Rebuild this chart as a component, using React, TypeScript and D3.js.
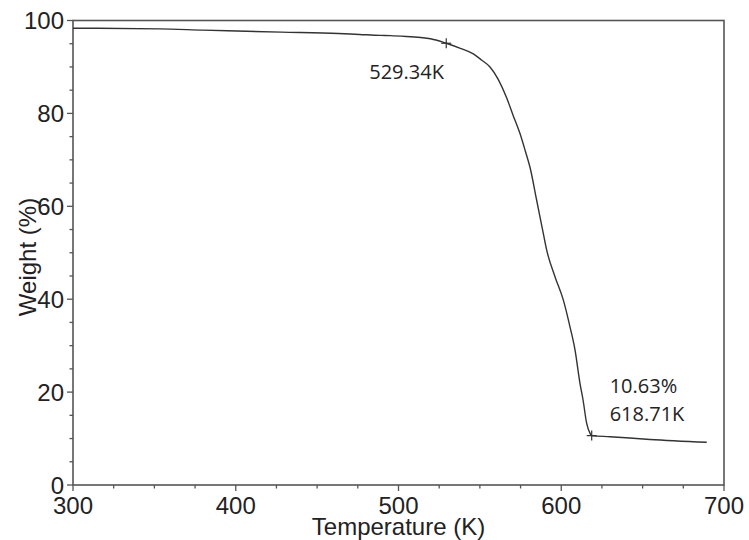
import React from "react";
import * as d3 from "d3";

const temperature = [300, 353, 380, 395, 428, 463, 476, 489, 495, 505, 515, 523, 529.34, 538, 546, 551, 556.2, 561, 566.5, 570.5, 574.7, 578, 580.8, 584.9, 589.0, 591.1, 596.2, 601.3, 605.4, 608.5, 611.5, 613.4, 615.6, 617.7, 618.71, 630, 654.5, 689.4];
const weight = [98.34, 98.2, 97.92, 97.78, 97.5, 97.2, 97.0, 96.8, 96.75, 96.55, 96.28, 95.8, 95.1, 94.0, 92.8, 91.5, 90.0, 87.5, 83.3, 79.5, 75.6, 71.8, 68.4, 61.3, 54.1, 50.5, 44.8, 39.8, 34.0, 29.0, 21.9, 18.3, 13.3, 11.1, 10.63, 10.4, 9.8, 9.2];

const xTicks = [300, 400, 500, 600, 700];
const yTicks = [0, 20, 40, 60, 80, 100];
const xMinor = d3.range(300, 701, 25);
const yMinor = d3.range(0, 101, 5);

const markerT = [529.34, 618.71];
const markerW = [95.1, 10.63];
const markerLabels = [["529.34K"], ["10.63%", "618.71K"]];

const W = 749, H = 540;
const L = 73, R = 724, T = 20.5, B = 485;

export default function App() {
  const x = d3.scaleLinear().domain([300, 700]).range([L, R]);
  const y = d3.scaleLinear().domain([0, 100]).range([B, T]);
  const pts = temperature.map((t, i) => [t, weight[i]] as [number, number]);
  const line = d3.line<[number, number]>().x(d => x(d[0])).y(d => y(d[1])).curve(d3.curveMonotoneX);
  const axisColor = "#555";
  const font = "Arial, 'Liberation Sans', sans-serif";
  const annFont = "'Open Sans', sans-serif";
  const labelPos = [
    { dx: -77, dy: 36 },
    { dx: 18, dy: -43 },
  ];
  return (
    <div style={{ position: "absolute", left: 0, top: 0 }}>
      <svg width={W} height={H} style={{ display: "block", background: "#fff" }}>
        <rect x={L} y={T} width={R - L} height={B - T} fill="none" stroke={axisColor} strokeWidth={1.6} />
        {xMinor.map(v => (
          <line key={"xm" + v} x1={x(v)} x2={x(v)} y1={B} y2={B + (v % 100 === 0 ? 6 : 3.5)} stroke={axisColor} strokeWidth={1.3} />
        ))}
        {yMinor.map(v => (
          <line key={"ym" + v} x1={L} x2={L - (v % 20 === 0 ? 6 : 3.5)} y1={y(v)} y2={y(v)} stroke={axisColor} strokeWidth={1.3} />
        ))}
        {xTicks.map(v => (
          <text key={"xt" + v} x={x(v)} y={514} textAnchor="middle" fontFamily={font} fontSize={24} fill="#222">{v}</text>
        ))}
        {yTicks.map(v => (
          <text key={"yt" + v} x={64} y={y(v)} dy="0.36em" textAnchor="end" fontFamily={font} fontSize={24} fill="#222">{v}</text>
        ))}
        <text x={(L + R) / 2} y={535} textAnchor="middle" fontFamily={font} fontSize={24} fill="#222">Temperature (K)</text>
        <text transform={`translate(36,257) rotate(-90)`} textAnchor="middle" fontFamily={font} fontSize={24} fill="#222">Weight (%)</text>
        <path d={line(pts) || ""} fill="none" stroke="#333" strokeWidth={1.4} />
        {markerT.map((t, i) => {
          const cx = x(t), cy = y(markerW[i]);
          return (
            <g key={"m" + i}>
              <line x1={cx - 5} x2={cx + 5} y1={cy} y2={cy} stroke="#333" strokeWidth={1.2} />
              <line x1={cx} x2={cx} y1={cy - 5} y2={cy + 5} stroke="#333" strokeWidth={1.2} />
              {markerLabels[i].map((s, j) => (
                <text key={j} x={cx + labelPos[i].dx} y={cy + labelPos[i].dy + j * 28.5} fontFamily={annFont} fontSize={20} fill="#222">{s}</text>
              ))}
            </g>
          );
        })}
      </svg>
    </div>
  );
}
